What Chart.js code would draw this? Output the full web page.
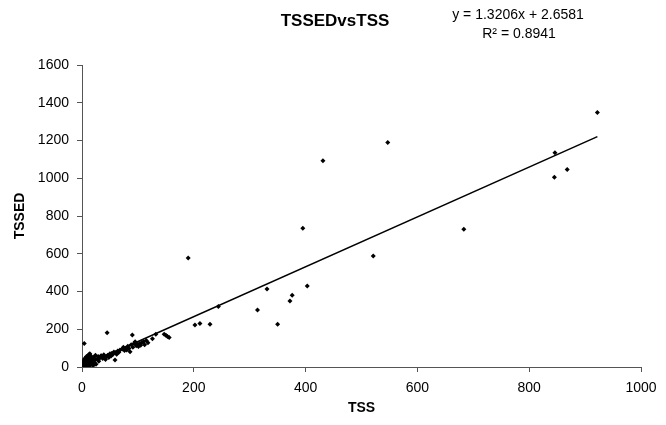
<!DOCTYPE html>
<html>
<head>
<meta charset="utf-8">
<script src="https://cdn.jsdelivr.net/npm/chart.js@4.4.0/dist/chart.umd.min.js"></script>
<style>
  body { margin:0; background:#fff; }
  #wrap { width:666px; height:425px; }
</style>
</head>
<body>
<div id="wrap"><canvas id="mycanvas" width="666" height="425"></canvas></div>
<script>
// TSS (x) and TSSED (y)
var tss = [1,2,3,4,5,6,7,8,9,10,11,12,13,14,15,16,17,18,19,20,21,22,23,24,25,5,8,3,12,14,2,6,10,18,20,4,
	27,29,30,32,34,35,37,39,40,42,44,45,46,48,50,52,53,55,57,59,60,62,64,66,68,
	72,74,76,78,80,82,84,86,88,90,91,93,95,97,99,101,103,105,107,110,112,115,118,126,132,
	147,150,153,156,190,202,211,229,244,314,331,350,372,376,395,403,431,521,547,683,845,846,868,922];
var tssed = [5,12,3,20,8,30,15,2,40,22,10,48,28,6,35,58,18,44,12,30,52,24,38,62,15,45,55,35,65,70,25,18,4,26,8,125,
	42,55,30,48,60,58,45,65,52,40,55,182,62,50,70,58,72,66,80,37,75,68,85,78,90,
	95,104,88,100,90,110,98,81,118,170,105,125,134,112,120,108,125,115,130,134,118,140,128,150,173,
	174,168,162,156,577,222,231,226,320,302,413,226,350,380,735,429,1093,588,1190,730,1005,1135,1047,1349];
var xTicks = [0,200,400,600,800,1000];
var yTicks = [0,200,400,600,800,1000,1200,1400,1600];
var slope = 1.3206;
var intercept = 2.6581;
var rSquared = 0.8941;

var points = [];
for (var i in tss) {
	points.push({x: tss[i], y: tssed[i]});
}
var xMin = Math.min.apply(null, tss);
var xMax = Math.max.apply(null, tss);
var trend = [
	{x: xMin, y: slope * xMin + intercept},
	{x: xMax, y: slope * xMax + intercept}
];

var fam = "'Liberation Sans', Arial, sans-serif";

// title and the trendline equation
var textPlugin = {
	id: 'texts',
	afterDraw: function(chart) {
		var c = chart.ctx;
		c.save();
		c.fillStyle = '#000';
		c.textAlign = 'center';
		c.textBaseline = 'middle';
		c.font = 'bold 17px ' + fam;
		c.fillText('TSSEDvsTSS', 335, 21);
		c.font = '14px ' + fam;
		c.fillText('y = ' + slope + 'x + ' + intercept, 518, 15);
		c.fillText('R\u00B2 = ' + rSquared, 519, 34);
		c.restore();
	}
};

var axisCol = '#555';
var plain = function(v) { return String(v); };

var chartdata = {
	datasets: [
		{
			type: 'scatter',
			data: points,
			backgroundColor: '#000',
			borderColor: '#000',
			pointStyle: 'rectRot',
			pointRadius: 2.5,
			borderWidth: 0
		},
		{
			type: 'line',
			data: trend,
			borderColor: '#000',
			borderWidth: 1.5,
			pointRadius: 0,
			fill: false
		}
	]
};

var options = {
	responsive: false,
	animation: false,
	layout: { padding: { left: 0, top: 65, right: 25, bottom: 0 } },
	plugins: { legend: { display: false }, tooltip: { enabled: false }, title: { display: false } },
	scales: {
		x: {
			type: 'linear',
			min: 0, max: 1000,
			afterBuildTicks: function(axis) { axis.ticks = xTicks.map(function(v){ return {value: v}; }); },
			afterFit: function(axis) { axis.height = 58; },
			grid: { drawOnChartArea: false, drawTicks: true, tickLength: 5, color: axisCol },
			border: { color: axisCol, width: 1 },
			ticks: { color: '#000', font: { family: fam, size: 14 }, padding: 8, maxRotation: 0, callback: plain },
			title: { display: true, text: 'TSS', color: '#000', font: { family: fam, size: 14, weight: 'bold' }, padding: { top: 0, bottom: 8 } }
		},
		y: {
			type: 'linear',
			min: 0, max: 1600,
			afterBuildTicks: function(axis) { axis.ticks = yTicks.map(function(v){ return {value: v}; }); },
			afterFit: function(axis) { axis.width = 82; },
			grid: { drawOnChartArea: false, drawTicks: true, tickLength: 5, color: axisCol },
			border: { color: axisCol, width: 1 },
			ticks: { color: '#000', font: { family: fam, size: 14 }, padding: 8, callback: plain },
			title: { display: true, text: 'TSSED', color: '#000', font: { family: fam, size: 14, weight: 'bold' }, padding: { top: 12, bottom: 0 } }
		}
	}
};

var ctx = document.getElementById('mycanvas');
var scatterChart = new Chart(ctx, {
	type: 'scatter',
	data: chartdata,
	options: options,
	plugins: [textPlugin]
});
</script>
</body>
</html>
